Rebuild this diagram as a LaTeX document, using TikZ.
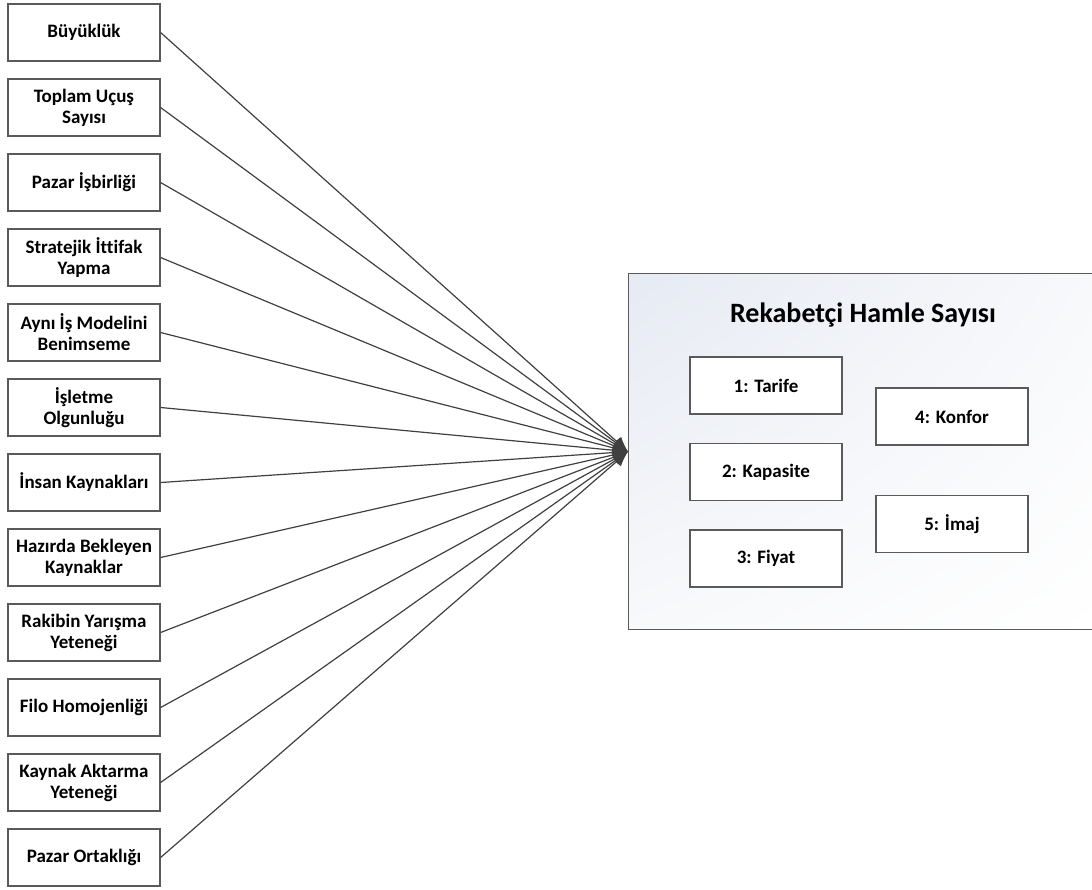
\documentclass[tikz,border=0pt]{standalone}
\usepackage{fontspec}
\setmainfont{Carlito}[Ligatures=NoCommon]
\usetikzlibrary{arrows.meta,shadings}
\definecolor{edgegray}{HTML}{404040}
\definecolor{boxgray}{HTML}{5A5A5A}
\definecolor{shadeblue}{HTML}{E6EAF3}
\definecolor{shadewhite}{HTML}{F8F9FB}

\begin{document}
\begin{tikzpicture}[x=1pt, y=-1pt, >={Latex[length=15pt,width=13pt]},
  factor/.style={draw=boxgray, line width=1.2pt, fill=white, minimum width=152pt,
    minimum height=57pt, align=center, inner sep=1pt,
    font=\bfseries\fontsize{19}{21}\selectfont},
  move/.style={factor, font=\bfseries\fontsize{19}{22}\selectfont}]
  \useasboundingbox (0,0) rectangle (1092,889);
  % target box
  \node (moves) [draw=boxgray, line width=1.2pt, anchor=north west,
    minimum width=470pt, minimum height=356pt, shade,
    upper left=shadeblue, upper right=shadewhite,
    lower left=shadewhite, lower right=white] at (628,273) {};
  \node (title) at (863,315) {\bfseries\fontsize{28}{32}\selectfont Rekabetçi Hamle Sayısı};
  \node (m1) [move] at (766,385.5) {1: Tarife};
  \node (m2) [move] at (766,472) {2: Kapasite};
  \node (m3) [move] at (766,558.5) {3: Fiyat};
  \node (m4) [move] at (952,416.5) {4: Konfor};
  \node (m5) [move] at (952,524) {5: İmaj};
  % factors
  \foreach \txt [count=\i] in {Büyüklük, {Toplam Uçuş\\Sayısı}, Pazar İşbirliği,
      {Stratejik İttifak\\Yapma}, {Aynı İş Modelini\\Benimseme}, {İşletme\\Olgunluğu},
      İnsan Kaynakları, {Hazırda Bekleyen\\Kaynaklar}, {Rakibin Yarışma\\Yeteneği},
      Filo Homojenliği, {Kaynak Aktarma\\Yeteneği}, Pazar Ortaklığı} {
    \node (f\i) [factor] at (84, {32.5+75*(\i-1)}) {\txt};
    \draw[->, edgegray, line width=1.2pt] (f\i.east) -- (moves.west);
  }
\end{tikzpicture}
\end{document}
